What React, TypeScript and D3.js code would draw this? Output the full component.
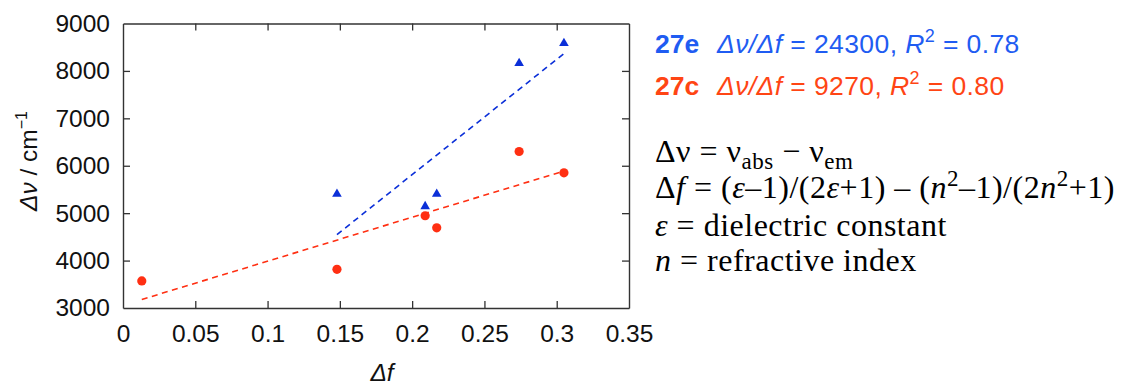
import { useRef, useEffect } from "react";
import * as d3 from "d3";

// series 27e (blue triangles)
const eFx = [0.148, 0.209, 0.217, 0.274, 0.305];
const eDnu = [5420, 5160, 5420, 8180, 8600];
// series 27c (red circles)
const cFx = [0.013, 0.148, 0.209, 0.217, 0.274, 0.305];
const cDnu = [3570, 3815, 4945, 4690, 6300, 5850];

const xTicks = [0, 0.05, 0.1, 0.15, 0.2, 0.25, 0.3, 0.35];
const yTicks = [3000, 4000, 5000, 6000, 7000, 8000, 9000];

const BLUE = "#0b2fd8";
const RED = "#ff2f12";
const BLUE_TXT = "#1f5cf2";
const RED_TXT = "#ff4514";

function fit(xs: number[], ys: number[]) {
  const mx = d3.mean(xs) as number;
  const my = d3.mean(ys) as number;
  const sxy = d3.sum(xs, (x, i) => (x - mx) * (ys[i] - my));
  const sxx = d3.sum(xs, (x) => (x - mx) * (x - mx));
  const b = sxy / sxx;
  return { b, a: my - b * mx };
}

export default function App() {
  const svgRef = useRef(null);

  useEffect(() => {
    const svg = d3.select(svgRef.current);
    svg.selectAll("*").remove();

    const left = 123, right = 629, top = 23.5, bottom = 308;
    const x = d3.scaleLinear().domain([0, 0.35]).range([left, right]);
    const y = d3.scaleLinear().domain([3000, 9000]).range([bottom, top]);
    const sans = "'Liberation Sans', Arial, Helvetica, sans-serif";
    const serif = "'Liberation Serif', 'Times New Roman', serif";

    const styleAxis = (g: any) => {
      g.selectAll("path.domain").attr("stroke", "#333").attr("stroke-width", 1.4);
      g.selectAll(".tick line").attr("stroke", "#333").attr("stroke-width", 1.3);
      g.selectAll("text").attr("fill", "#111").style("font-size", "24.5px").style("font-family", sans);
    };

    const xfmt = (d: any) => (d === 0 ? "0" : String(d));
    svg.append("g").attr("transform", `translate(0,${bottom})`)
      .call(d3.axisBottom(x).tickValues(xTicks).tickSize(-7).tickSizeOuter(0).tickPadding(17).tickFormat(xfmt))
      .call(styleAxis);
    svg.append("g").attr("transform", `translate(0,${top})`)
      .call(d3.axisTop(x).tickValues(xTicks).tickSize(-7).tickSizeOuter(0).tickFormat(() => ""))
      .call(styleAxis);
    svg.append("g").attr("transform", `translate(${left},0)`)
      .call(d3.axisLeft(y).tickValues(yTicks).tickSize(-7).tickSizeOuter(0).tickPadding(13).tickFormat(d3.format("d")))
      .call(styleAxis);
    svg.append("g").attr("transform", `translate(${right},0)`)
      .call(d3.axisRight(y).tickValues(yTicks).tickSize(-7).tickSizeOuter(0).tickFormat(() => ""))
      .call(styleAxis);
    svg.selectAll(".tick").filter((d: any) => d === 0.35 || d === 9000 || d === 3000 || d === 0)
      .select("line").remove();
    svg.selectAll(".tick text").filter(function () { return (this as any).textContent === ""; }).remove();

    // fit lines
    const series = [
      { xs: cFx, ys: cDnu, color: RED },
      { xs: eFx, ys: eDnu, color: BLUE },
    ];
    series.forEach((s) => {
      const { a, b } = fit(s.xs, s.ys);
      const [x0, x1] = d3.extent(s.xs) as [number, number];
      svg.append("path")
        .attr("d", d3.line()([[x(x0), y(a + b * x0)], [x(x1), y(a + b * x1)]]))
        .attr("fill", "none").attr("stroke", s.color)
        .attr("stroke-width", 1.6).attr("stroke-dasharray", "6,4.5");
    });

    svg.append("g").selectAll("circle").data(cFx).join("circle")
      .attr("cx", (d) => x(d)).attr("cy", (d, i) => y(cDnu[i])).attr("r", 4.6).attr("fill", RED);
    const tri = d3.symbol().type(d3.symbolTriangle).size(40);
    svg.append("g").selectAll("path").data(eFx).join("path")
      .attr("d", tri)
      .attr("transform", (d, i) => `translate(${x(d)},${y(eDnu[i]) + 0.8})`)
      .attr("fill", BLUE);

    // axis titles
    const yt = svg.append("text")
      .attr("transform", `translate(37,161) rotate(-90)`)
      .attr("text-anchor", "middle").style("font-family", sans).style("font-size", "24.5px").attr("fill", "#111");
    yt.append("tspan").attr("font-style", "italic").text("Δν");
    yt.append("tspan").text(" / cm");
    yt.append("tspan").attr("dy", -10).style("font-size", "16px").text("−1");

    svg.append("text").attr("x", 382).attr("y", 381).attr("text-anchor", "middle")
      .style("font-family", sans).style("font-size", "24.5px").attr("font-style", "italic").attr("fill", "#111")
      .text("Δf");

    // legend
    const legend = [
      { id: "27e", slope: "24300", r2: "0.78", color: BLUE_TXT, yb: 53 },
      { id: "27c", slope: "9270", r2: "0.80", color: RED_TXT, yb: 95 },
    ];
    legend.forEach((l) => {
      svg.append("text").attr("x", 655).attr("y", l.yb).attr("fill", l.color)
        .style("font-family", sans).style("font-size", "26.5px").attr("font-weight", "bold").text(l.id);
      const t = svg.append("text").attr("x", 717).attr("y", l.yb).attr("fill", l.color)
        .style("font-family", sans).style("font-size", "26.5px").style("letter-spacing", "0.4px");
      t.append("tspan").attr("font-style", "italic").text("Δν/Δf");
      t.append("tspan").text(` = ${l.slope},  `);
      t.append("tspan").attr("font-style", "italic").text("R");
      t.append("tspan").attr("dy", -11).style("font-size", "18px").text("2");
      t.append("tspan").attr("dy", 11).text(` = ${l.r2}`);
    });

    // definitions: parts are [text, kind] with kind r(oman), i(talic), sub, sup
    const rows: [string, string][][] = [
      [["Δν = ν", "r"], ["abs", "sub"], [" − ν", "r"], ["em", "sub"]],
      [["Δ", "r"], ["f", "i"], [" = (", "r"], ["ε", "i"], ["–1)/(2", "r"], ["ε", "i"], ["+1) – (", "r"],
        ["n", "i"], ["2", "sup"], ["–1)/(2", "r"], ["n", "i"], ["2", "sup"], ["+1)", "r"]],
      [["ε", "i"], [" = dielectric constant", "r"]],
      [["n", "i"], [" = refractive index", "r"]],
    ];
    const baselines = [162, 198, 236, 271];
    rows.forEach((parts, ri) => {
      const t = svg.append("text").attr("x", 655).attr("y", baselines[ri]).attr("fill", "#000")
        .style("font-family", serif).style("font-size", "32px").style("letter-spacing", "0.5px");
      let shift = 0;
      parts.forEach(([s, k]) => {
        const target = k === "sub" ? 7 : k === "sup" ? -12 : 0;
        const sp = t.append("tspan").text(s);
        if (target !== shift) { sp.attr("dy", target - shift); shift = target; }
        if (k === "i") sp.attr("font-style", "italic");
        if (k === "sub" || k === "sup") sp.style("font-size", "23px");
      });
    });
  }, []);

  return (
    <svg ref={svgRef} width={1127} height={385}
      style={{ position: "absolute", left: 0, top: 0, background: "#fff" }} />
  );
}
